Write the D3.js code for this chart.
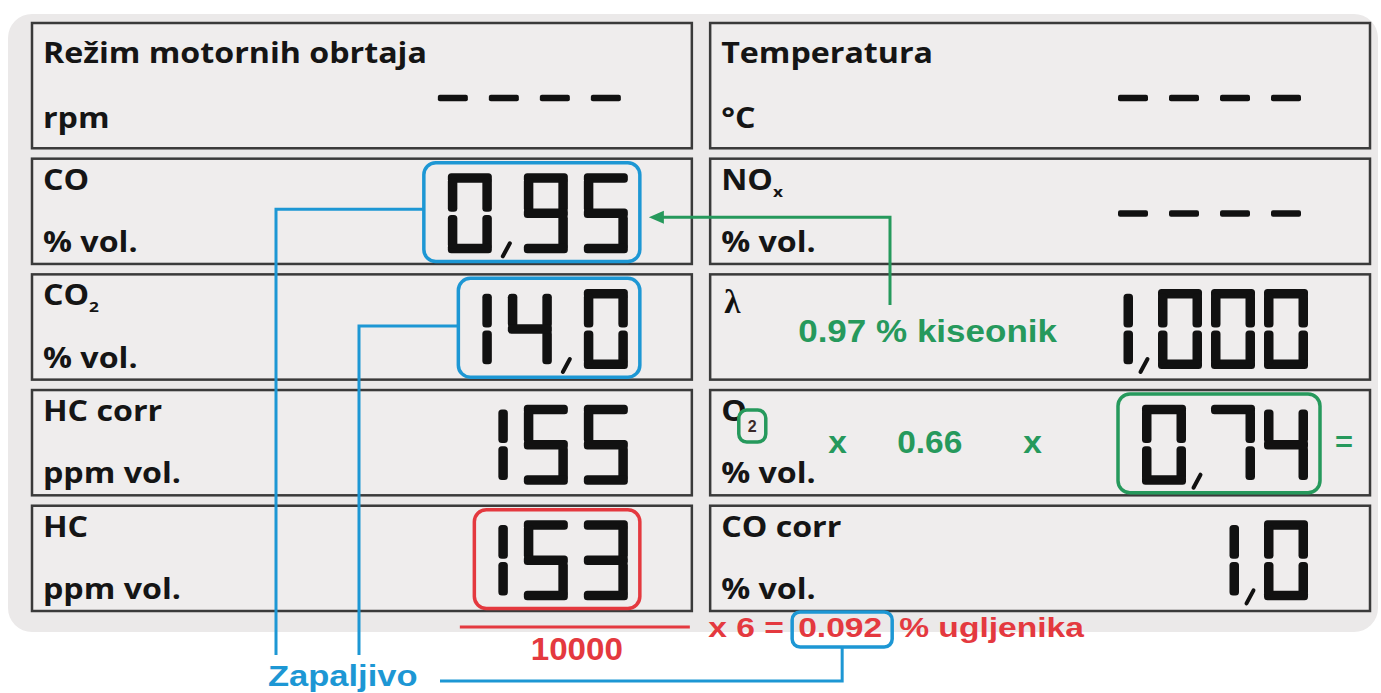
<!DOCTYPE html>
<html>
<head>
<meta charset="utf-8">
<script src="https://cdn.jsdelivr.net/npm/d3@7"></script>
<style>
  body { margin: 0; background: #fff; }
  .lbl { font-family: "Open Sans", sans-serif; font-weight: 700; fill: #151515; }
  .note { font-family: "Liberation Sans", Arial, sans-serif; font-weight: 700; }
</style>
</head>
<body>
<svg id="chart" width="1381" height="693"></svg>
<script>
////////////////////////////////////////
///// GAS ANALYSER READOUT PANEL   /////
////////////////////////////////////////

// DATA
const leftTitles    = ["Režim motornih obrtaja", "CO", "CO", "HC corr", "HC"]
const leftSubs      = ["", "", "2", "", ""]
const leftUnits     = ["rpm", "% vol.", "% vol.", "ppm vol.", "ppm vol."]
const leftReadings  = ["----", "0,95", "14,0", "155", "153"]

const rightTitles   = ["Temperatura", "NO", "λ", "O", "CO corr"]
const rightSubs     = ["", "x", "", "2", ""]
const rightUnits    = ["°C", "% vol.", "", "% vol.", "% vol."]
const rightReadings = ["----", "----", "1,000", "0,74", "1,0"]

// which readings are ringed: [column, row, colour]
const highlights    = [[0, 1, "blue"], [0, 2, "blue"], [0, 4, "red"], [1, 3, "green"]]

const oxygenNote    = "0.97 % kiseonik"
const oxygenFactor  = ["x", "0.66", "x"]
const carbonDivisor = "10000"
const carbonFactor  = "x 6 ="
const carbonResult  = "0.092"
const carbonUnit    = "% ugljenika"
const flammable     = "Zapaljivo"


// SETTINGS
const colors = { blue: "#1d97d4", green: "#26995c", red: "#e4393f", ink: "#111", frame: "#3a3a3a" }
const seg = { w: 44, h: 80, t: 9.5, gap: 1.6, comma: 16, dashPitch: 51, dashW: 30 }
const pitchByCol = [60, 53]
const SEGS = { "0": "abcdef", "1": "bc", "2": "abdeg", "3": "abcdg", "4": "bcfg", "5": "acdfg",
               "6": "acdefg", "7": "abc", "8": "abcdefg", "9": "abcdfg" }

const svg = d3.select("#chart")

// scales for the 2 x 5 grid of display boxes
const col = d3.scaleBand().domain([0, 1]).range([32, 1370]).paddingInner(0.027)
const row = d3.scaleBand().domain(d3.range(5)).range([43, 611]).paddingInner(0.09)
const boxTop    = r => r === 0 ? row(0) - 20 : row(r)
const boxBottom = r => row(r) + row.bandwidth()
const rowMid    = r => row(r) + row.bandwidth() / 2
const readRight = c => col(c) + col.bandwidth() - (c === 0 ? 64 : 62)

const columns = [
    { titles: leftTitles,  subs: leftSubs,  units: leftUnits,  readings: leftReadings },
    { titles: rightTitles, subs: rightSubs, units: rightUnits, readings: rightReadings }
]

// helper: text stretched horizontally (the source artwork is widened)
const stretched = (parent, x, y, sx) =>
    parent.append("text").attr("transform", `translate(${x},${y}) scale(${sx},1)`)


// I. PANEL
svg.append("rect")
    .attr("x", 8).attr("y", 14).attr("width", 1370).attr("height", 618).attr("rx", 24)
    .attr("fill", "#ebe9e9")


// II. BOXES AND LABELS
const gBoxes = svg.append("g")
columns.forEach((cd, c) => {
    d3.range(5).forEach(r => {
        gBoxes.append("rect")
            .attr("x", col(c)).attr("y", boxTop(r))
            .attr("width", col.bandwidth()).attr("height", boxBottom(r) - boxTop(r))
            .attr("fill", "#efeded").attr("stroke", colors.frame).attr("stroke-width", 2.5)

        const tx = col(c) + 11
        const titleY = r === 0 ? boxTop(r) + 40 : row(r) + 31
        const unitY  = r === 0 ? boxBottom(r) - 20 : boxBottom(r) - 12

        if (cd.titles[r] === "λ") {
            svg.append("text").attr("x", tx + 3).attr("y", titleY + 8)
                .attr("font-family", "Liberation Serif, serif").attr("font-weight", 700)
                .attr("font-size", 33).attr("fill", colors.ink).text("λ")
        } else {
            const t = stretched(svg, tx, titleY, 1.15).attr("class", "lbl").attr("font-size", 28)
            t.append("tspan").text(cd.titles[r])
            if (cd.subs[r] && !(c === 1 && r === 3)) {
                t.append("tspan").attr("font-size", 15).attr("dy", 7).text(cd.subs[r])
            }
            if (c === 1 && r === 3) {
                // O2 subscript ringed in green
                const w = t.node().getComputedTextLength() * 1.15
                const bx = tx + w - 8, by = titleY - 11
                svg.append("rect").attr("x", bx).attr("y", by).attr("width", 27).attr("height", 32).attr("rx", 8)
                    .attr("fill", "#efeded").attr("stroke", colors.green).attr("stroke-width", 3.5)
                svg.append("text").attr("class", "note").attr("x", bx + 13.5).attr("y", by + 22)
                    .attr("text-anchor", "middle").attr("font-size", 16).attr("fill", "#3a2a2a").text(cd.subs[r])
            }
        }
        if (cd.units[r]) {
            stretched(svg, tx, unitY, 1.15).attr("class", "lbl").attr("font-size", 28).text(cd.units[r])
        }
    })
})


// III. SEVEN SEGMENT READINGS
function segRects(x, y) {
    const { w, h, t, gap } = seg, m = y + h / 2
    const vLen = h / 2 - t / 2 - gap
    return {
        a: [x, y, w, t],
        g: [x, m - t / 2, w, t],
        d: [x, y + h - t, w, t],
        f: [x, y + t / 2, t, vLen],
        b: [x + w - t, y + t / 2, t, vLen],
        e: [x, m + gap, t, vLen],
        c: [x + w - t, m + gap, t, vLen]
    }
}

// lays a reading out right-aligned; returns the left/right edge of the ink
function drawReading(parent, str, xRight, yMid, pitch) {
    const chars = str.split("")
    const g = parent.append("g").attr("fill", colors.ink)

    if (chars.every(ch => ch === "-")) {        // blank display: dashes only
        const right = xRight - 7
        chars.forEach((ch, i) => {
            g.append("rect")
                .attr("x", right - seg.dashW - (chars.length - 1 - i) * seg.dashPitch)
                .attr("y", yMid - 3).attr("width", seg.dashW).attr("height", 6.5).attr("rx", 2)
        })
        return { left: right - seg.dashW - (chars.length - 1) * seg.dashPitch, right }
    }

    const nDig = chars.filter(ch => ch !== ",").length
    const nCom = chars.length - nDig
    const total = nDig * pitch - (pitch - seg.w) + nCom * seg.comma
    const y = yMid - seg.h / 2
    let cx = xRight - total, inkLeft = null

    chars.forEach(ch => {
        if (ch === ",") {
            const px = cx - (pitch - seg.w) / 2 + seg.comma / 2
            g.append("line")
                .attr("x1", px + 2).attr("y1", y + seg.h - 10)
                .attr("x2", px - 5).attr("y2", y + seg.h + 3)
                .attr("stroke", colors.ink).attr("stroke-width", 4).attr("stroke-linecap", "round")
            cx += seg.comma
            return
        }
        const rects = segRects(cx, y)
        SEGS[ch].split("").forEach(s => {
            const [rx, ry, rw, rh] = rects[s]
            g.append("rect").attr("x", rx).attr("y", ry).attr("width", rw).attr("height", rh).attr("rx", 3.5)
        })
        if (inkLeft === null) inkLeft = ch === "1" ? cx + seg.w - seg.t : cx
        cx += pitch
    })
    return { left: inkLeft, right: xRight }
}

const inkBounds = {}
columns.forEach((cd, c) => {
    cd.readings.forEach((val, r) => {
        inkBounds[`${c}-${r}`] = drawReading(svg, val, readRight(c), rowMid(r) + 2, pitchByCol[c])
    })
})


// IV. HIGHLIGHT RINGS
const ringBox = {}
highlights.forEach(([c, r, colour]) => {
    const ink = inkBounds[`${c}-${r}`]
    const box = { x: ink.left - 24, y: row(r) + 4, w: ink.right + 12 - (ink.left - 24), h: row.bandwidth() - 6.5 }
    ringBox[`${c}-${r}`] = box
    svg.append("rect")
        .attr("x", box.x).attr("y", box.y).attr("width", box.w).attr("height", box.h).attr("rx", 12)
        .attr("fill", "none").attr("stroke", colors[colour]).attr("stroke-width", 3.5)
})


// V. ANNOTATIONS
const line = d3.line()

// a. oxygen note + arrow back to CO
const noteX = col(1) + 88, noteY = rowMid(2) + 15
stretched(svg, noteX, noteY, 1.13).attr("class", "note").attr("font-size", 31).attr("fill", colors.green).text(oxygenNote)

const coBox = ringBox["0-1"]
const arrowY = rowMid(1) + 6, arrowX = 890, tipX = coBox.x + coBox.w + 9
svg.append("path")
    .attr("d", line([[arrowX, noteY - 37], [arrowX, arrowY], [tipX + 12, arrowY]]))
    .attr("fill", "none").attr("stroke", colors.green).attr("stroke-width", 3)
svg.append("path")
    .attr("d", line([[tipX, arrowY], [tipX + 15, arrowY - 6.5], [tipX + 15, arrowY + 6.5]]) + "Z")
    .attr("fill", colors.green)

// b. O2 factor row
const factorY = rowMid(3) + 10
const factorX = [col(1) + 118, col(1) + 187, col(1) + 313]
oxygenFactor.forEach((txt, i) => {
    stretched(svg, factorX[i], factorY, 1.08).attr("class", "note").attr("font-size", 31)
        .attr("fill", colors.green).text(txt)
})
const o2Box = ringBox["1-3"]
stretched(svg, o2Box.x + o2Box.w + 15, factorY - 2, 1.1).attr("class", "note").attr("font-size", 28)
    .attr("fill", colors.green).text("=")

// c. carbon formula under HC
const fracMid = readRight(0) - 53
const fracY = 627
svg.append("line").attr("x1", fracMid - 115).attr("x2", fracMid + 115).attr("y1", fracY).attr("y2", fracY)
    .attr("stroke", colors.red).attr("stroke-width", 3)
stretched(svg, fracMid + 2, fracY + 33, 1.07).attr("class", "note").attr("font-size", 31)
    .attr("text-anchor", "middle").attr("fill", colors.red).text(carbonDivisor)

const formY = fracY + 10
stretched(svg, col(1) - 2, formY, 1.2).attr("class", "note").attr("font-size", 28).attr("fill", colors.red).text(carbonFactor)
const resX = col(1) + 88
const resText = stretched(svg, resX, formY, 1.2).attr("class", "note").attr("font-size", 28).attr("fill", colors.red).text(carbonResult)
const resW = resText.node().getComputedTextLength() * 1.2
stretched(svg, resX + resW + 17, formY, 1.2).attr("class", "note").attr("font-size", 28).attr("fill", colors.red).text(carbonUnit)

const resBox = { x: resX - 6, y: formY - 25, w: resW + 16, h: 35 }
svg.append("rect")
    .attr("x", resBox.x).attr("y", resBox.y).attr("width", resBox.w).attr("height", resBox.h).attr("rx", 8)
    .attr("fill", "none").attr("stroke", colors.blue).attr("stroke-width", 3.5)

// d. "Zapaljivo" leaders
const dropX = [276, 359], dropEnd = 655, baseY = 681
const co2Box = ringBox["0-2"]
svg.append("path").attr("d", line([[coBox.x, rowMid(1) - 2], [dropX[0], rowMid(1) - 2], [dropX[0], dropEnd]]))
    .attr("fill", "none").attr("stroke", colors.blue).attr("stroke-width", 3)
svg.append("path").attr("d", line([[co2Box.x, rowMid(2) - 1], [dropX[1], rowMid(2) - 1], [dropX[1], dropEnd]]))
    .attr("fill", "none").attr("stroke", colors.blue).attr("stroke-width", 3)
const resCx = resBox.x + resBox.w / 2
svg.append("path").attr("d", line([[resCx, resBox.y + resBox.h], [resCx, baseY], [440, baseY]]))
    .attr("fill", "none").attr("stroke", colors.blue).attr("stroke-width", 3)

stretched(svg, 268, baseY + 5, 1.15).attr("class", "note").attr("font-size", 30).attr("fill", colors.blue).text(flammable)
</script>
</body>
</html>
